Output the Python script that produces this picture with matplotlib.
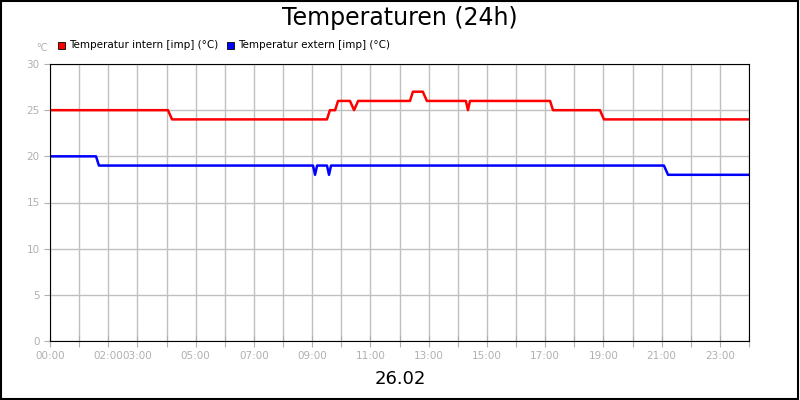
import matplotlib
matplotlib.use("Agg")
import matplotlib.pyplot as plt
from matplotlib.patches import Rectangle

# hours since 00:00 and temperature (°C)
intern_t = [0, 4.05, 4.19, 9.51, 9.61, 9.79, 9.89, 10.30, 10.44, 10.58, 12.36, 12.46,
            12.80, 12.94, 14.28, 14.35, 14.42, 17.17, 17.27, 18.88, 19.02, 24]
intern_v = [25, 25, 24, 24, 25, 25, 26, 26, 25, 26, 26, 27,
            27, 26, 26, 25, 26, 26, 25, 25, 24, 24]
extern_t = [0, 1.58, 1.68, 9.03, 9.10, 9.17, 9.51, 9.58, 9.65, 21.08, 21.22, 24]
extern_v = [20, 20, 19, 19, 18, 19, 19, 18, 19, 19, 18, 18]

tick_hours = list(range(25))
tick_labels = ["00:00", "", "02:00", "03:00", "", "05:00", "", "07:00", "", "09:00", "",
               "11:00", "", "13:00", "", "15:00", "", "17:00", "", "19:00", "", "21:00",
               "", "23:00", ""]

GRAY = "#b0b0b0"
fig = plt.figure(figsize=(8, 4), dpi=100)
fig.patches.append(Rectangle((0.001, 0.002), 0.997, 0.995, transform=fig.transFigure,
                             fill=False, edgecolor="black", linewidth=1.5))
ax = fig.add_axes([50 / 800, 1 - 341 / 400, 699 / 800, 277 / 400])

ax.plot(intern_t, intern_v, color="#ff0000", linewidth=1.8)
ax.plot(extern_t, extern_v, color="#0000ff", linewidth=1.8)

ax.set_xlim(0, 24)
ax.set_ylim(0, 30)
ax.set_xticks(tick_hours)
ax.set_xticklabels(tick_labels)
ax.set_yticks(range(0, 31, 5))
ax.grid(True, color="#c0c0c0", linewidth=1)
ax.tick_params(colors=GRAY, labelcolor=GRAY, labelsize=7.5, length=4)
ax.tick_params(axis="x", direction="inout", length=8)
for s in ax.spines.values():
    s.set_color("black")

fig.text(0.5, 1 - 18 / 400, "Temperaturen (24h)", ha="center", va="center", fontsize=17)
fig.text(42 / 800, 1 - 48 / 400, "°C", ha="center", va="center", fontsize=7, color=GRAY)
for x0, col, lab in [(58, "#ff0000", "Temperatur intern [imp] (°C)"),
                     (227, "#0000ff", "Temperatur extern [imp] (°C)")]:
    fig.patches.append(Rectangle((x0 / 800, 1 - 49 / 400), 7 / 800, 7 / 400,
                                 transform=fig.transFigure, facecolor=col, edgecolor="black",
                                 linewidth=0.6))
    fig.text((x0 + 11) / 800, 1 - 45 / 400, lab, ha="left", va="center", fontsize=7.5)
fig.text(0.5, 1 - 379 / 400, "26.02", ha="center", va="center", fontsize=13)

fig.savefig("out.png", dpi=100)
